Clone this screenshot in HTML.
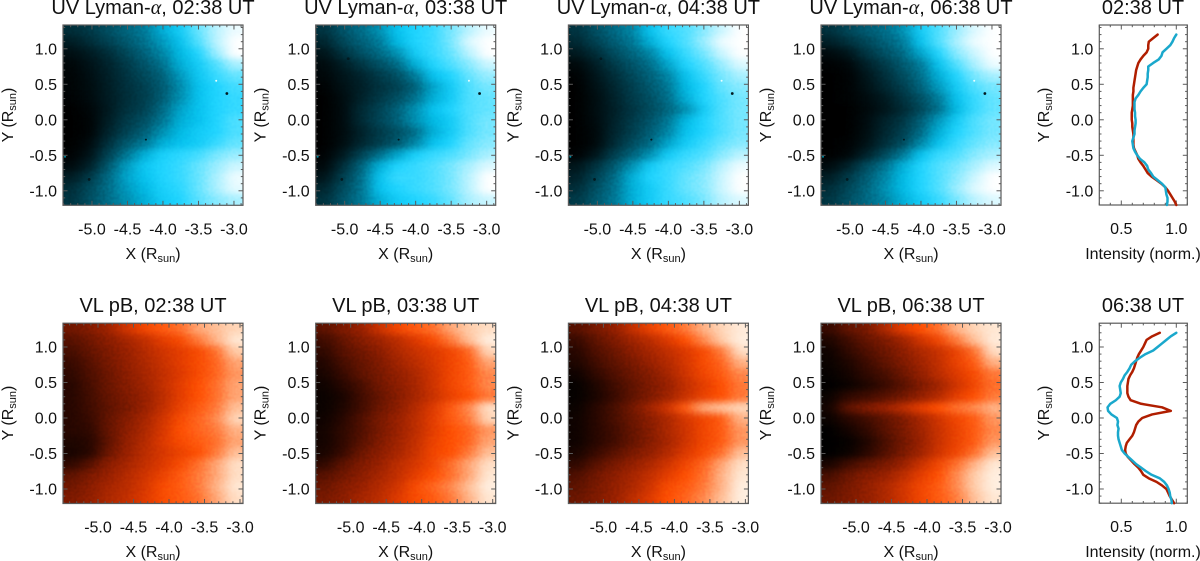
<!DOCTYPE html>
<html lang="en">
<head>
<meta charset="utf-8">
<title>UV Lyman-alpha and VL pB maps with intensity profiles</title>
<style>
html,body{margin:0;padding:0;background:#fff}
svg{display:block}
text{font-family:"Liberation Sans",sans-serif;fill:#111}
.title{font-size:20px;text-anchor:middle}
.axis{font-size:16px;text-anchor:middle}
.sub{font-size:11px}
.greek{font-family:"Liberation Serif",serif;font-style:italic}
.grain{mix-blend-mode:overlay}
</style>
</head>
<body>
<svg id="figure" xmlns="http://www.w3.org/2000/svg" width="1200" height="561" viewBox="0 0 1200 561">
<defs>
<filter id="soften" filterUnits="userSpaceOnUse" x="0" y="0" width="1200" height="561" color-interpolation-filters="sRGB"><feGaussianBlur stdDeviation="7 3.5"/></filter>
<filter id="noise" x="0" y="0" width="100%" height="100%" color-interpolation-filters="sRGB"><feTurbulence type="fractalNoise" baseFrequency="0.35" numOctaves="1" seed="4"/><feColorMatrix type="matrix" values="1.6 0 0 0 -0.3  1.6 0 0 0 -0.3  1.6 0 0 0 -0.3  0 0 0 0 1"/></filter>
</defs>
<g id="plots"></g>

<text class="title" x="153" y="14">UV Lyman-<tspan class="greek">α</tspan>, 02:38 UT</text>
<text class="title" x="405.7" y="14">UV Lyman-<tspan class="greek">α</tspan>, 03:38 UT</text>
<text class="title" x="658.4" y="14">UV Lyman-<tspan class="greek">α</tspan>, 04:38 UT</text>
<text class="title" x="911" y="14">UV Lyman-<tspan class="greek">α</tspan>, 06:38 UT</text>
<text class="title" x="1143" y="14">02:38 UT</text>
<text class="title" x="153" y="312">VL pB, 02:38 UT</text>
<text class="title" x="405.7" y="312">VL pB, 03:38 UT</text>
<text class="title" x="658.4" y="312">VL pB, 04:38 UT</text>
<text class="title" x="911" y="312">VL pB, 06:38 UT</text>
<text class="title" x="1143" y="312">06:38 UT</text>

<text class="axis" x="153" y="259">X (R<tspan class="sub" dy="3">sun</tspan><tspan dy="-3">)</tspan></text>
<text class="axis" x="405.7" y="259">X (R<tspan class="sub" dy="3">sun</tspan><tspan dy="-3">)</tspan></text>
<text class="axis" x="658.4" y="259">X (R<tspan class="sub" dy="3">sun</tspan><tspan dy="-3">)</tspan></text>
<text class="axis" x="911" y="259">X (R<tspan class="sub" dy="3">sun</tspan><tspan dy="-3">)</tspan></text>
<text class="axis" x="1143" y="259">Intensity (norm.)</text>
<text class="axis" x="153" y="557">X (R<tspan class="sub" dy="3">sun</tspan><tspan dy="-3">)</tspan></text>
<text class="axis" x="405.7" y="557">X (R<tspan class="sub" dy="3">sun</tspan><tspan dy="-3">)</tspan></text>
<text class="axis" x="658.4" y="557">X (R<tspan class="sub" dy="3">sun</tspan><tspan dy="-3">)</tspan></text>
<text class="axis" x="911" y="557">X (R<tspan class="sub" dy="3">sun</tspan><tspan dy="-3">)</tspan></text>
<text class="axis" x="1143" y="557">Intensity (norm.)</text>

<text class="axis" transform="translate(13,115) rotate(-90)">Y (R<tspan class="sub" dy="3">sun</tspan><tspan dy="-3">)</tspan></text>
<text class="axis" transform="translate(265.7,115) rotate(-90)">Y (R<tspan class="sub" dy="3">sun</tspan><tspan dy="-3">)</tspan></text>
<text class="axis" transform="translate(518.4,115) rotate(-90)">Y (R<tspan class="sub" dy="3">sun</tspan><tspan dy="-3">)</tspan></text>
<text class="axis" transform="translate(771,115) rotate(-90)">Y (R<tspan class="sub" dy="3">sun</tspan><tspan dy="-3">)</tspan></text>
<text class="axis" transform="translate(1049,115) rotate(-90)">Y (R<tspan class="sub" dy="3">sun</tspan><tspan dy="-3">)</tspan></text>
<text class="axis" transform="translate(13,413) rotate(-90)">Y (R<tspan class="sub" dy="3">sun</tspan><tspan dy="-3">)</tspan></text>
<text class="axis" transform="translate(265.7,413) rotate(-90)">Y (R<tspan class="sub" dy="3">sun</tspan><tspan dy="-3">)</tspan></text>
<text class="axis" transform="translate(518.4,413) rotate(-90)">Y (R<tspan class="sub" dy="3">sun</tspan><tspan dy="-3">)</tspan></text>
<text class="axis" transform="translate(771,413) rotate(-90)">Y (R<tspan class="sub" dy="3">sun</tspan><tspan dy="-3">)</tspan></text>
<text class="axis" transform="translate(1049,413) rotate(-90)">Y (R<tspan class="sub" dy="3">sun</tspan><tspan dy="-3">)</tspan></text>
</svg>

<script>
// ---------- tick labels ----------
const xTickValues = [-5.0, -4.5, -4.0, -3.5, -3.0];
const xTickLabels = ["-5.0", "-4.5", "-4.0", "-3.5", "-3.0"];
const yTickValues = [1.0, 0.5, 0.0, -0.5, -1.0];
const yTickLabels = ["1.0", "0.5", "0.0", "-0.5", "-1.0"];
const intensityTickValues = [0.5, 1.0];
const intensityTickLabels = ["0.5", "1.0"];

// ---------- heatmap values: rows run top to bottom, columns left to right (0-100) ----------
const uv0238 = [
[22,28,38,48,58,68,74,82,92,98],
[14,22,32,42,54,64,72,80,92,100],
[7,13,22,34,47,60,70,76,88,100],
[3,9,17,28,40,54,68,74,80,90],
[2,7,15,25,35,46,64,73,78,82],
[2,6,14,23,31,43,61,72,76,79],
[1,5,13,22,30,44,62,72,76,78],
[0,3,12,24,32,50,66,72,76,78],
[0,2,14,28,38,56,68,72,76,80],
[0,2,17,32,45,62,70,74,76,80],
[0,5,23,42,56,68,72,74,78,82],
[1,9,32,55,68,75,77,79,84,88],
[5,16,42,64,73,76,78,82,88,94],
[14,28,50,66,72,76,78,82,90,98],
[22,36,52,64,70,75,77,82,90,97],
[25,38,52,62,68,74,76,81,86,90]];
const uv0338 = [
[25,40,52,62,72,76,78,84,92,98],
[18,34,46,58,70,76,78,84,96,100],
[10,24,38,50,62,74,78,82,92,100],
[5,14,26,38,50,68,76,80,86,94],
[3,10,17,28,38,58,72,76,82,88],
[1,8,15,24,32,46,66,74,80,84],
[0,6,16,27,38,54,68,74,80,82],
[0,5,20,32,46,62,72,76,80,82],
[0,5,20,33,46,62,70,74,80,84],
[0,5,16,28,38,52,68,74,80,84],
[0,6,18,30,42,60,72,76,82,86],
[1,12,32,52,66,75,78,80,84,90],
[4,22,46,68,76,78,80,84,90,96],
[10,30,52,72,78,78,80,84,92,100],
[18,36,54,72,76,78,80,84,92,100],
[24,40,56,68,74,76,78,82,90,94]];
const uv0438 = [
[25,38,50,60,72,78,80,86,94,100],
[20,32,44,56,68,76,80,88,98,100],
[12,22,36,48,60,72,78,84,94,100],
[4,14,28,40,52,66,76,80,88,96],
[1,10,22,34,46,60,72,78,84,90],
[0,8,18,30,42,56,70,76,82,86],
[0,6,16,28,38,52,68,76,80,84],
[0,6,15,25,36,48,62,74,80,84],
[0,5,16,28,40,56,70,76,80,84],
[0,4,17,30,44,60,72,76,80,84],
[0,4,20,36,50,66,74,78,82,86],
[1,10,30,46,62,74,78,80,86,92],
[10,24,42,62,74,78,80,84,92,98],
[16,32,50,68,76,78,82,86,94,100],
[22,38,54,68,74,78,82,86,94,100],
[28,42,56,68,74,78,80,84,92,96]];
const uv0638 = [
[24,34,44,52,62,74,80,88,96,100],
[15,24,34,46,58,72,80,90,98,100],
[5,10,26,38,50,66,76,86,94,100],
[1,3,15,28,42,58,72,80,90,98],
[0,1,10,22,36,52,68,76,84,90],
[0,1,8,18,30,46,64,74,80,84],
[0,1,5,12,24,38,58,72,78,82],
[0,0,4,10,20,34,54,70,78,82],
[0,0,5,16,26,44,64,74,80,84],
[0,0,6,18,30,50,68,76,80,84],
[0,1,8,22,36,60,72,78,82,86],
[0,3,16,34,56,72,78,80,86,90],
[5,16,36,54,68,76,80,84,90,96],
[14,28,44,60,70,76,80,86,94,100],
[22,34,48,62,70,76,80,88,96,100],
[26,38,50,60,68,74,78,84,92,96]];
const vl0238 = [
[28,34,42,56,66,72,76,84,88,92],
[20,28,36,44,52,62,68,78,86,96],
[16,24,32,40,48,56,62,68,76,90],
[12,20,30,38,46,54,62,68,74,84],
[10,18,26,36,44,52,60,68,74,82],
[8,16,26,34,42,52,62,70,76,84],
[8,15,24,32,40,50,62,70,76,84],
[8,14,22,30,40,52,64,72,78,88],
[8,12,24,34,44,56,68,74,80,92],
[8,10,24,36,46,58,70,74,78,86],
[6,8,22,38,48,60,68,72,76,84],
[5,8,26,40,50,58,64,70,78,88],
[10,20,36,44,52,60,68,76,84,94],
[22,32,40,48,56,64,72,78,84,94],
[28,36,44,50,58,68,72,78,86,96],
[32,38,46,52,60,68,72,76,84,94]];
const vl0338 = [
[22,32,40,54,66,72,76,84,90,94],
[14,24,34,42,50,60,68,78,88,98],
[10,20,28,36,46,54,60,66,74,92],
[7,16,24,32,42,50,58,66,72,84],
[5,12,22,30,38,46,56,66,72,80],
[3,8,16,28,36,44,56,66,72,80],
[2,5,14,24,34,44,54,64,70,78],
[2,6,14,26,36,48,60,72,80,94],
[3,8,18,30,40,50,62,72,78,92],
[4,10,18,30,40,50,62,70,74,82],
[4,10,20,32,42,52,64,70,74,84],
[5,12,26,36,44,54,66,70,78,88],
[10,22,32,40,50,58,66,76,84,94],
[20,28,36,44,52,62,70,76,84,96],
[26,34,40,48,56,68,74,80,88,98],
[30,36,44,50,60,68,72,78,86,96]];
const vl0438 = [
[20,30,38,52,64,72,78,86,92,97],
[12,22,32,42,50,60,70,80,90,98],
[8,18,26,36,44,52,60,68,78,94],
[6,14,22,30,40,48,58,68,74,86],
[3,10,18,26,34,44,56,66,72,80],
[1,6,14,22,32,40,52,62,70,78],
[1,5,12,22,32,42,54,64,70,78],
[2,8,16,28,42,56,72,84,88,92],
[3,8,16,26,36,46,58,66,72,86],
[3,8,14,24,34,46,56,66,72,82],
[3,8,14,24,34,44,56,66,72,82],
[5,12,20,30,38,48,60,68,76,88],
[10,20,30,38,46,56,66,74,84,94],
[18,28,36,44,52,62,70,76,86,96],
[22,30,38,46,56,68,72,78,86,98],
[26,32,40,50,60,70,74,80,88,98]];
const vl0638 = [
[12,24,30,46,62,70,76,86,92,96],
[6,14,24,32,42,56,66,78,88,97],
[3,10,18,26,36,46,54,64,76,94],
[2,6,13,22,32,42,52,64,72,86],
[1,4,10,16,26,38,50,60,68,78],
[0,2,6,12,20,32,42,56,66,76],
[2,10,14,20,28,38,48,62,70,78],
[4,22,32,40,50,62,70,76,80,86],
[2,8,14,22,32,44,56,66,72,82],
[0,4,10,20,30,42,54,64,72,80],
[0,1,6,16,28,40,54,64,72,82],
[0,2,8,18,30,42,56,66,76,88],
[5,14,22,30,40,54,66,76,86,96],
[16,26,34,40,50,62,70,80,90,98],
[22,30,38,46,56,66,72,80,90,98],
[26,32,38,46,56,66,72,78,88,96]];

// ---------- isolated specks in the UV maps (solar X, solar Y) ----------
const speckX = [-4.95, -3.10, -4.24, -5.04, -5.38, -3.25];
const speckY = [0.86, 0.37, -0.28, -0.84, -0.52, 0.55];

// ---------- intensity profiles ----------
const profileY = [1.2,1.15,1.1,1.05,1.0,0.95,0.9,0.85,0.8,0.75,0.7,0.65,0.6,0.55,0.5,0.45,0.4,0.35,0.3,0.25,0.2,0.15,0.1,0.05,0,-0.05,-0.1,-0.15,-0.2,-0.25,-0.3,-0.35,-0.4,-0.45,-0.5,-0.55,-0.6,-0.65,-0.7,-0.75,-0.8,-0.85,-0.9,-0.95,-1.0,-1.05,-1.1,-1.15,-1.2];
const vl0238Profile = [.83,.79,.75,.745,.745,.73,.70,.675,.655,.645,.635,.63,.625,.62,.615,.61,.61,.605,.605,.605,.605,.60,.595,.595,.595,.60,.60,.605,.61,.61,.61,.61,.615,.63,.645,.655,.675,.70,.72,.74,.775,.82,.865,.90,.925,.945,.965,.985,1.0];
const uv0238Profile = [1.0,.98,.965,.945,.91,.875,.865,.84,.79,.745,.745,.74,.74,.735,.73,.70,.675,.655,.63,.62,.62,.62,.625,.625,.63,.63,.625,.62,.62,.61,.60,.605,.61,.625,.645,.67,.71,.735,.745,.77,.79,.83,.87,.90,.905,.91,.92,.92,.915];
const vl0638Profile = [.85,.78,.73,.715,.70,.68,.66,.645,.635,.625,.615,.60,.58,.565,.56,.555,.555,.555,.565,.585,.68,.87,.95,.78,.69,.655,.635,.625,.615,.60,.575,.55,.54,.535,.54,.56,.59,.62,.655,.68,.70,.75,.82,.87,.91,.925,.94,.96,.98];
const uv0638Profile = [1.0,.95,.91,.87,.83,.79,.72,.67,.625,.59,.575,.555,.53,.515,.495,.485,.49,.495,.485,.45,.40,.375,.38,.41,.46,.47,.465,.475,.47,.47,.475,.485,.495,.505,.53,.565,.60,.635,.68,.725,.775,.85,.89,.915,.93,.94,.945,.955,.96];

// ---------- colour maps ----------
const uvStops = [[0,0,0,0],[30,0,60,75],[58,0,120,150],[71,0,190,235],[76,30,212,255],[82,100,228,255],[90,170,240,255],[100,255,255,255]];
const vlStops = [[0,0,0,0],[8,38,6,0],[20,85,16,0],[40,150,31,0],[60,220,56,0],[70,255,78,0],[78,255,120,55],[84,255,165,115],[90,255,205,170],[96,255,232,212],[100,255,245,235]];
function colour(stops, t) {
  for (let i = 1; i < stops.length; i++) {
    if (t <= stops[i][0]) {
      const a = stops[i - 1], b = stops[i], f = (t - a[0]) / (b[0] - a[0]);
      return 'rgb(' + [1, 2, 3].map(k => Math.round(a[k] + (b[k] - a[k]) * f)).join(',') + ')';
    }
  }
  const l = stops[stops.length - 1];
  return 'rgb(' + l[1] + ',' + l[2] + ',' + l[3] + ')';
}

// ---------- helpers ----------
const NS = 'http://www.w3.org/2000/svg';
const root = document.getElementById('plots');
function make(tag, props, parent) {
  const el = document.createElementNS(NS, tag);
  for (const k in props) el.setAttribute(k, props[k]);
  parent.appendChild(el);
  return el;
}
const FRAME = '#5a5a5a';

function drawFrame(g, left, top, w, h, xOf, yOf, xMajor, xMinorVals, xLabels, xLabelValues, yMinorVals) {
  const frame = make('rect', {x: left, y: top, width: w, height: h, fill: 'none', stroke: FRAME, 'stroke-width': 1.2}, g);
  
  

  const ticks = make('g', {stroke: FRAME, 'stroke-width': 1}, g);
  
  
  xMinorVals.forEach(v => {
    const px = xOf(v);
    const len = xMajor.some(m => Math.abs(m - v) < 1e-6) ? 4.5 : 2.2;
    make('line', {x1: px, x2: px, y1: top + h, y2: top + h - len}, ticks);
    make('line', {x1: px, x2: px, y1: top, y2: top + len}, ticks);
  });
  yMinorVals.forEach(v => {
    const py = yOf(v);
    const len = yTickValues.some(m => Math.abs(m - v) < 1e-6) ? 4.5 : 2.2;
    make('line', {x1: left, x2: left + len, y1: py, y2: py}, ticks);
    make('line', {x1: left + w, x2: left + w - len, y1: py, y2: py}, ticks);
  });

  xLabelValues.forEach((v, i) => {
    const t = make('text', {x: xOf(v), y: top + h + 29, 'text-anchor': 'middle', 'font-size': 16}, g);
    
    
    t.textContent = xLabels[i];
  });
  yTickValues.forEach((v, i) => {
    const t = make('text', {x: left - 6, y: yOf(v) + 5.6, 'text-anchor': 'end', 'font-size': 16}, g);
    
    
    t.textContent = yTickLabels[i];
  });
}

function range(a, b, n) {
  const out = [];
  for (let i = 0; i <= n; i++) out.push(Math.round((a + (b - a) * i / n) * 100) / 100);
  return out;
}
const yMinor = range(-1.2, 1.3, 25);

let clipCount = 0;
function drawMap(name, grid, stops, left, top, x0, withSpecks) {
  const W = 180, H = 180.3;
  const xOf = v => left + (v - x0) * 71;
  const yOf = v => top + (1.335 - v) * 71;
  const g = make('g', {}, root);
  
  

  const clipId = 'clip' + (clipCount++);
  const cp = make('clipPath', {id: clipId}, g);
  make('rect', {x: left, y: top, width: W, height: H}, cp);
  const clipped = make('g', {'clip-path': 'url(#' + clipId + ')', style: 'isolation:isolate'}, g);
  const cells = make('g', {filter: 'url(#soften)'}, clipped);
  
  

  const rows = grid.length, cols = grid[0].length;
  const cw = W / cols, ch = H / rows;
  const pad = 24;
  grid.forEach((row, r) => row.forEach((val, c) => {
    const x = left + c * cw - (c === 0 ? pad : 0);
    const y = top + r * ch - (r === 0 ? pad : 0);
    const width = cw + 0.5 + (c === 0 || c === cols - 1 ? pad : 0);
    const height = ch + 0.5 + (r === 0 || r === rows - 1 ? pad : 0);
    make('rect', {x: x, y: y, width: width, height: height, fill: colour(stops, val)}, cells);
  }));

  const grain = make('rect', {x: left, y: top, width: W, height: H, filter: 'url(#noise)', class: 'grain', opacity: 0.08}, clipped);
  
  

  if (withSpecks) {
    speckX.forEach((sx, i) => {
      const fill = i === 5 ? '#e8ffff' : (i === 4 ? '#008aa0' : '#021a20');
      const s = make('circle', {cx: xOf(sx), cy: yOf(speckY[i]), r: i === 3 || i === 0 || i === 1 ? 1.4 : 1, fill: fill}, clipped);
      
      
    });
  }
  drawFrame(g, left, top, W, H, xOf, yOf, xTickValues, range(-5.4, -2.9, 25).filter(v => xOf(v) >= left && xOf(v) <= left + W), xTickLabels, xTickValues, yMinor);
}

function drawProfile(name, redSeries, blueSeries, top) {
  const left = 1099.3, W = 88, H = 180;
  const xOf = v => left + (v - 0.3) * 110;
  const yOf = v => top + (1.335 - v) * 71;
  const g = make('g', {}, root);
  
  
  drawFrame(g, left, top, W, H, xOf, yOf, intensityTickValues, range(0.3, 1.1, 8), intensityTickLabels, intensityTickValues, yMinor);

  const path = series => series.map((v, i) => (i ? 'L' : 'M') + xOf(v).toFixed(2) + ' ' + yOf(profileY[i]).toFixed(2)).join(' ');
  const red = make('path', {d: path(redSeries), fill: 'none', stroke: '#b01e00', 'stroke-width': 2.5, 'stroke-linejoin': 'round', 'stroke-linecap': 'round'}, g);
  
  
  const blue = make('path', {d: path(blueSeries), fill: 'none', stroke: '#1aa8cc', 'stroke-width': 2.5, 'stroke-linejoin': 'round', 'stroke-linecap': 'round'}, g);
  
  
}

// ---------- draw ----------
const topRowX0 = -5.408, bottomRowX0 = -5.493;
drawMap('uv-map-0238', uv0238, uvStops, 63, 25, topRowX0, true);
drawMap('uv-map-0338', uv0338, uvStops, 315.7, 25, topRowX0, true);
drawMap('uv-map-0438', uv0438, uvStops, 568.4, 25, topRowX0, true);
drawMap('uv-map-0638', uv0638, uvStops, 821, 25, topRowX0, true);
drawMap('vl-map-0238', vl0238, vlStops, 63, 323.2, bottomRowX0, false);
drawMap('vl-map-0338', vl0338, vlStops, 315.7, 323.2, bottomRowX0, false);
drawMap('vl-map-0438', vl0438, vlStops, 568.4, 323.2, bottomRowX0, false);
drawMap('vl-map-0638', vl0638, vlStops, 821, 323.2, bottomRowX0, false);
drawProfile('profile-chart-0238', vl0238Profile, uv0238Profile, 25);
drawProfile('profile-chart-0638', vl0638Profile, uv0638Profile, 323.2);
</script>
</body>
</html>
